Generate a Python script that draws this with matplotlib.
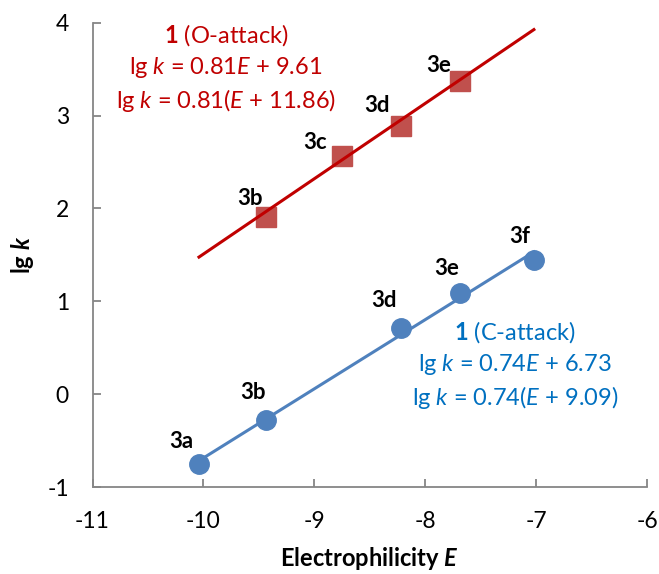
"""lg k versus electrophilicity E for C- and O-attack of 1."""

import numpy as np
import matplotlib

matplotlib.use("Agg")
import matplotlib.pyplot as plt

# C-attack (blue circles)
c_labels = ["3a", "3b", "3d", "3e", "3f"]
c_E = [-10.04, -9.44, -8.22, -7.69, -7.02]
c_lgk = [-0.75, -0.27, 0.71, 1.095, 1.446]

# O-attack (red squares)
o_labels = ["3b", "3c", "3d", "3e"]
o_E = [-9.44, -8.75, -8.22, -7.69]
o_lgk = [1.905, 2.568, 2.89, 3.371]
o_slope = 0.81
o_intercept = 9.61

x_ticks = [-11, -10, -9, -8, -7, -6]
y_ticks = [-1, 0, 1, 2, 3, 4]

# label offsets in pixels (dx, dy), dy measured upward
c_offsets = [(-18, 23), (-13, 27), (-17, 28), (-13, 24), (-14, 24)]
o_offsets = [(-16, 19), (-27, 13), (-24, 20), (-21, 15)]

FONT = "Lato"
plt.rcParams["font.family"] = [FONT, "DejaVu Sans"]
plt.rcParams["mathtext.fontset"] = "custom"
plt.rcParams["mathtext.rm"] = FONT
plt.rcParams["mathtext.it"] = FONT + ":italic"
plt.rcParams["mathtext.bf"] = FONT + ":bold"
plt.rcParams["mathtext.bfit"] = FONT + ":italic:bold"

GREY = "#868686"
BLUE = "#4F81BD"
RED_MARK = "#C0504D"
RED_LINE = "#C00000"
BLUE_TXT = "#0070C0"

fig = plt.figure(figsize=(6.59, 5.74), dpi=100)
ax = fig.add_axes([0.1404, 0.1507, 0.8414, 0.8101])

# blue: linear fit through points, drawn over data range
c_E_arr = np.array(c_E)
fit = np.polyfit(c_E_arr, c_lgk, 1)
xs = np.array([c_E_arr.min(), c_E_arr.max()])
ax.plot(xs, np.polyval(fit, xs), color=BLUE, lw=2.2, zorder=2)
ax.plot(c_E, c_lgk, "o", color=BLUE, ms=14, mec=BLUE, zorder=3)

# red: regression line from the equation, same E range
ax.plot(o_E, o_lgk, "s", color=RED_MARK, ms=14, mec=RED_MARK, zorder=3)
ax.plot(xs, o_slope * xs + o_intercept, color=RED_LINE, lw=2.2, zorder=4)

px2pt = 0.72
for lab, x, y, (dx, dy) in zip(c_labels, c_E, c_lgk, c_offsets):
    ax.annotate(lab, (x, y), xytext=(dx * px2pt, dy * px2pt),
                textcoords="offset points", ha="center", va="center",
                fontsize=16, fontweight="bold")
for lab, x, y, (dx, dy) in zip(o_labels, o_E, o_lgk, o_offsets):
    ax.annotate(lab, (x, y), xytext=(dx * px2pt, dy * px2pt),
                textcoords="offset points", ha="center", va="center",
                fontsize=16, fontweight="bold")

# equation blocks
o_text = ("$\\mathbf{1}$ (O-attack)\n"
          "lg $\\mathit{k}$ = 0.81$\\mathit{E}$ + 9.61\n"
          "lg $\\mathit{k}$ = 0.81($\\mathit{E}$ + 11.86)")
c_text = ("$\\mathbf{1}$ (C-attack)\n"
          "lg $\\mathit{k}$ = 0.74$\\mathit{E}$ + 6.73\n"
          "lg $\\mathit{k}$ = 0.74($\\mathit{E}$ + 9.09)")
fig.text(226 / 659, 1 - 68 / 574, o_text, color=RED_LINE, fontsize=17,
         ha="center", va="center", multialignment="center", linespacing=1.33)
fig.text(515 / 659, 1 - 365 / 574, c_text, color=BLUE_TXT, fontsize=17,
         ha="center", va="center", multialignment="center", linespacing=1.33)

ax.set_xlim(-11, -6)
ax.set_ylim(-1, 4)
ax.set_xticks(x_ticks)
ax.set_yticks(y_ticks)
ax.set_xticklabels([str(t) for t in x_ticks])
ax.set_yticklabels([str(t) for t in y_ticks])
ax.tick_params(direction="in", length=6, width=1.3, color=GREY,
               labelsize=16.5, pad=17)

for side in ["top", "right"]:
    ax.spines[side].set_visible(False)
for side in ["left", "bottom"]:
    ax.spines[side].set_color(GREY)
    ax.spines[side].set_linewidth(1.3)

ax.set_xlabel("Electrophilicity $\\mathbfit{E}$", fontsize=17,
              fontweight="bold", labelpad=9)
ax.set_ylabel("lg $\\mathbfit{k}$", fontsize=17, fontweight="bold",
              labelpad=8)

fig.savefig("out.png", dpi=100)
